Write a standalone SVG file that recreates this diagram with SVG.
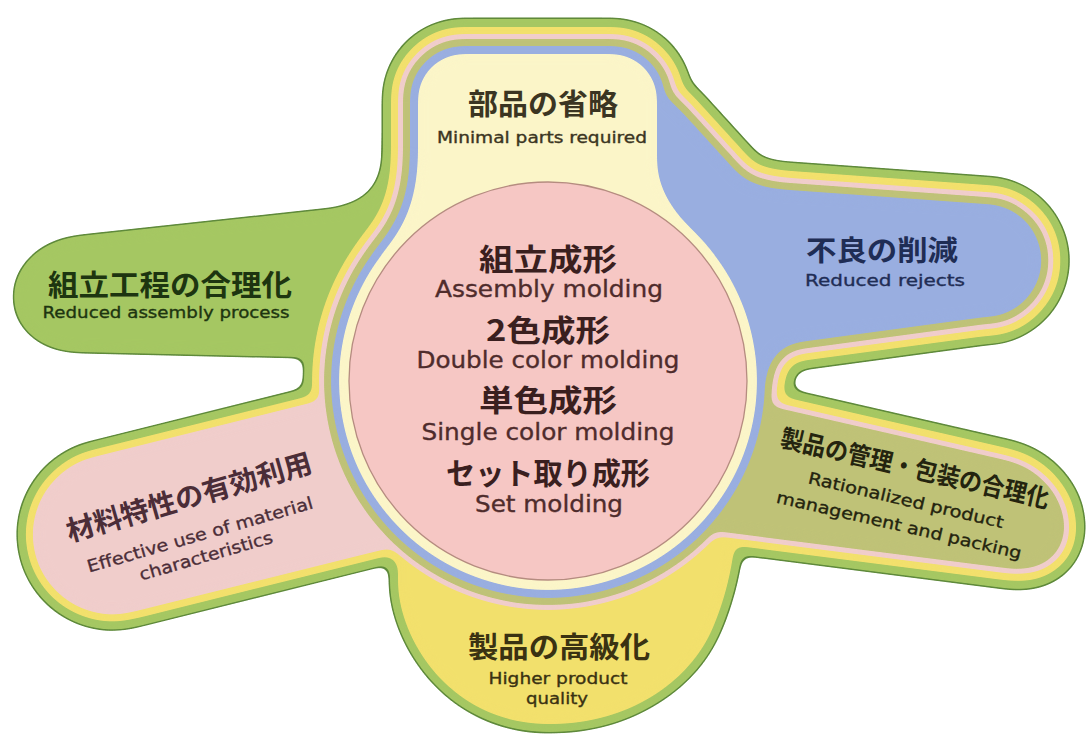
<svg xmlns="http://www.w3.org/2000/svg" width="1092" height="739" viewBox="0 0 1092 739">
<style>
.jp{font-family:"Noto Sans CJK JP","Noto Sans CJK SC",sans-serif;font-weight:700;text-anchor:middle;stroke:none}
.en{font-family:"DejaVu Sans","Liberation Sans",sans-serif;text-anchor:middle;stroke-width:0.35}
.lay{stroke-linejoin:round}
</style>
<defs>
<filter id="goo" filterUnits="userSpaceOnUse" x="0" y="0" width="1092" height="739" color-interpolation-filters="sRGB">
<feGaussianBlur stdDeviation="6"/>
<feColorMatrix type="matrix" values="1 0 0 0 0 0 1 0 0 0 0 0 1 0 0 0 0 0 16 -7.5"/>
</filter>
<path id="top" d="M418,99 A45,45 0 0 1 463,54 L612,54 A45,45 0 0 1 657,99 L657,160 C657,200 688,225 702,240 L548,381 L385,250 C404,227 418,200 418,150 Z"/>
<path id="rej" d="M640,86 L659,86 C664,96 672,102 682,112 L733,168 C745,182 760,188 790,190 L985,204 A56.5,56.5 0 0 1 985,317 L800,342 C780,345 768,360 766,380 L700,380 L640,120 Z"/>
<path id="pack" d="M765,405 L1005,460 C1080,477 1088,580 1005,568 L700,529 L700,405 Z"/>
<path id="mat" d="M95.7,456.4 L360,390.6 L430,470 L395,546.7 L359.3,555.6 L134.3,611.6 A80,80 0 1 1 95.7,456.4 Z"/>
<path id="qual" d="M398,520 L398,585 C400,640 450,722 545,724 C630,726 690,680 712,630 C725,600 732,570 735,540 L600,450 L480,450 Z"/>
<path id="asm" d="M383,140 L383,150 C383,185 368,203 330,209 L80,236 C-8,246 -8,350 80,352 L300,357 L450,360 L450,140 Z"/>
</defs>

<g id="connectors"></g>

<g id="outline" class="lay" filter="url(#goo)" fill="#5f8a3b" stroke="#5f8a3b">
<circle cx="548" cy="381" r="245.5" stroke="none"/>
<use href="#top" stroke-width="73"/>
<use href="#rej" stroke-width="57"/>
<use href="#pack" stroke-width="43"/>
<use href="#mat" stroke-width="33"/>
<use href="#qual" stroke-width="19"/>
<use href="#asm" stroke-width="3"/>
</g>
<g id="node-assembly" class="lay" filter="url(#goo)" fill="#a5c762" stroke="#a5c762">
<circle cx="548" cy="381" r="244" stroke="none"/>
<use href="#top" stroke-width="70"/>
<use href="#rej" stroke-width="54"/>
<use href="#pack" stroke-width="40"/>
<use href="#mat" stroke-width="30"/>
<use href="#qual" stroke-width="16"/>
<use href="#asm" stroke="none"/>
</g>
<g id="node-quality" class="lay" filter="url(#goo)" fill="#f2e06c" stroke="#f2e06c">
<circle cx="548" cy="381" r="236" stroke="none"/>
<use href="#top" stroke-width="54"/>
<use href="#rej" stroke-width="38"/>
<use href="#pack" stroke-width="24"/>
<use href="#mat" stroke-width="14"/>
<use href="#qual" stroke="none"/>
</g>
<g id="node-material" class="lay" filter="url(#goo)" fill="#f0cdcb" stroke="#f0cdcb">
<circle cx="548" cy="381" r="229" stroke="none"/>
<use href="#top" stroke-width="40"/>
<use href="#rej" stroke-width="24"/>
<use href="#pack" stroke-width="10"/>
<use href="#mat" stroke="none"/>
</g>
<g id="node-packaging" class="lay" filter="url(#goo)" fill="#bfc277" stroke="#bfc277">
<circle cx="548" cy="381" r="224" stroke="none"/>
<use href="#top" stroke-width="30"/>
<use href="#rej" stroke-width="14"/>
<use href="#pack" stroke="none"/>
</g>
<g id="node-rejects" class="lay" filter="url(#goo)" fill="#99aee0" stroke="#99aee0">
<circle cx="548" cy="381" r="217" stroke="none"/>
<use href="#top" stroke-width="16"/>
<use href="#rej" stroke="none"/>
</g>
<g id="node-parts" class="lay" filter="url(#goo)" fill="#fbf5c8" stroke="#fbf5c8">
<circle cx="548" cy="381" r="209" stroke="none"/>
<use href="#top" stroke="none"/>
</g>
<g id="node-center">
<circle cx="548" cy="381" r="199" fill="#f6c7c4" stroke="#b58c80" stroke-width="1.3"/>
<g fill="#3a1f1f">
<text class="jp" x="548" y="270" font-size="30" textLength="138" lengthAdjust="spacingAndGlyphs">組立成形</text>
<text class="jp" x="548" y="341" font-size="30" textLength="124" lengthAdjust="spacingAndGlyphs">2色成形</text>
<text class="jp" x="548" y="411" font-size="30" textLength="138" lengthAdjust="spacingAndGlyphs">単色成形</text>
<text class="jp" x="548" y="484" font-size="30" textLength="204" lengthAdjust="spacingAndGlyphs">セット取り成形</text>
</g>
<g fill="#4f2c2c" stroke="#4f2c2c">
<text class="en" x="549" y="297" font-size="23" textLength="228" lengthAdjust="spacingAndGlyphs">Assembly molding</text>
<text class="en" x="548" y="368" font-size="23" textLength="263" lengthAdjust="spacingAndGlyphs">Double color molding</text>
<text class="en" x="548" y="440" font-size="23" textLength="253" lengthAdjust="spacingAndGlyphs">Single color molding</text>
<text class="en" x="549" y="512" font-size="23" textLength="148" lengthAdjust="spacingAndGlyphs">Set molding</text>
</g>
</g>

<g id="label-parts" fill="#3b3522" stroke="#3b3522">
<text class="jp" x="543" y="115" font-size="29" textLength="150" lengthAdjust="spacingAndGlyphs">部品の省略</text>
<text class="en" x="542" y="143" font-size="15" textLength="210" lengthAdjust="spacingAndGlyphs">Minimal parts required</text>
</g>
<g id="label-assembly" fill="#1d3510" stroke="#1d3510">
<text class="jp" x="170" y="296" font-size="29" textLength="244" lengthAdjust="spacingAndGlyphs">組立工程の合理化</text>
<text class="en" x="166" y="318" font-size="16" textLength="247" lengthAdjust="spacingAndGlyphs">Reduced assembly process</text>
</g>
<g id="label-rejects" fill="#1f2d55" stroke="#1f2d55">
<text class="jp" x="882" y="261" font-size="28" textLength="152" lengthAdjust="spacingAndGlyphs">不良の削減</text>
<text class="en" x="885" y="286" font-size="16" textLength="160" lengthAdjust="spacingAndGlyphs">Reduced rejects</text>
</g>
<g id="label-material" fill="#4b2d38" stroke="#4b2d38" transform="translate(190,500) rotate(-16)">
<text class="jp" x="0" y="7" font-size="28" textLength="254" lengthAdjust="spacingAndGlyphs">材料特性の有効利用</text>
<text class="en" x="0" y="42" font-size="17" textLength="234" lengthAdjust="spacingAndGlyphs">Effective use of material</text>
<text class="en" x="0" y="64" font-size="17" textLength="138" lengthAdjust="spacingAndGlyphs">characteristics</text>
</g>
<g id="label-packaging" fill="#24240f" stroke="#24240f" transform="translate(915,468) rotate(13)">
<text class="jp" x="0" y="9.5" font-size="25" textLength="275" lengthAdjust="spacingAndGlyphs">製品の管理・包装の合理化</text>
<text class="en" x="-1.6" y="39" font-size="16.5" textLength="200" lengthAdjust="spacingAndGlyphs">Rationalized product</text>
<text class="en" x="-2.6" y="65" font-size="16.5" textLength="251" lengthAdjust="spacingAndGlyphs">management and packing</text>
</g>
<g id="label-quality" fill="#3a3212" stroke="#3a3212">
<text class="jp" x="559" y="658" font-size="29" textLength="182" lengthAdjust="spacingAndGlyphs">製品の高級化</text>
<text class="en" x="558" y="684" font-size="16" textLength="139" lengthAdjust="spacingAndGlyphs">Higher product</text>
<text class="en" x="557" y="704" font-size="16" textLength="62" lengthAdjust="spacingAndGlyphs">quality</text>
</g>
</svg>
